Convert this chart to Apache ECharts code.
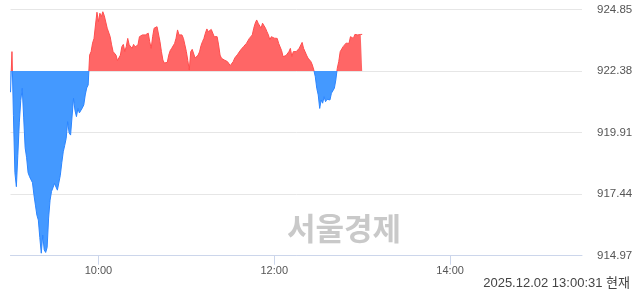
<!DOCTYPE html>
<html><head><meta charset="utf-8">
<script src="https://cdn.jsdelivr.net/npm/echarts@6/dist/echarts.min.js"></script>
<style>html,body{margin:0;padding:0;background:#fff}#c{width:640px;height:294px}</style>
</head><body><div id="c"></div>
<script>
// one value per minute from 09:00 to 13:00
const values = [
921.53,923.16,920.6,918.3,917.74,919.0,920.3,921.2,921.69,920.5,
919.3,918.9,918.3,918.14,918.21,917.9,917.41,917.0,916.6,916.4,
915.7,915.07,915.8,915.2,915.1,915.3,916.48,917.2,917.55,917.7,
917.87,917.8,917.6,917.54,918.2,918.7,919.14,919.4,919.68,920.35,
919.9,919.81,919.85,921.29,920.8,920.55,920.88,920.7,920.68,920.9,
921.02,921.42,921.7,921.82,923.02,923.16,923.5,923.69,924.23,924.74,
924.36,924.7,924.56,924.76,924.6,924.56,924.1,924.16,923.76,923.43,
923.16,923.1,923.02,922.8,922.73,923.02,923.36,923.45,923.16,923.36,
923.69,923.43,923.35,923.29,923.45,923.35,923.29,923.43,923.76,923.8,
923.83,923.83,923.83,923.85,923.9,923.56,923.29,923.76,924.1,924.15,
924.16,924.1,923.56,923.16,922.82,922.7,922.69,922.73,923.02,923.2,
923.29,923.36,923.49,923.7,924.03,923.83,923.76,923.83,923.69,923.43,
923.16,922.8,922.42,923.16,923.25,923.2,922.9,922.82,923.02,923.15,
923.4,923.56,923.69,923.9,924.07,923.96,924.03,924.05,924.1,923.76,
923.76,923.76,923.43,923.02,922.89,922.85,922.82,922.8,922.76,922.76,
922.6,922.55,922.76,922.9,922.96,923.05,923.02,923.22,923.16,923.36,
923.29,923.49,923.55,923.69,923.75,923.83,924.1,924.3,924.43,924.3,
924.23,924.1,924.3,924.23,924.1,923.96,923.83,923.63,923.76,923.8,
923.7,923.63,923.69,923.49,923.43,923.2,922.96,922.96,923.0,923.02,
923.16,923.29,922.96,923.16,923.16,923.16,923.2,923.29,923.29,923.53,
923.29,923.16,923.02,922.9,922.89,922.76,922.62,922.42,922.15,921.69,
921.42,920.88,921.22,921.09,921.35,921.15,921.25,921.29,921.22,921.49,
921.42,921.69,922.02,922.49,922.76,923.16,923.22,923.36,923.43,923.5,
923.56,923.49,923.76,923.69,923.69,923.85,923.9,923.83,923.9,923.85,
923.85];
const baseValue = 922.38;
const yTicks = [914.97, 917.44, 919.91, 922.38, 924.85];
const xTickLabels = ['10:00', '12:00', '14:00'];
const stampText = '2025.12.02 13:00:31 현재';
const watermark = '서울경제';

// categories: every minute 09:00 .. 15:30
const categories = [];
for (let m = 0; m <= 390; m++) {
  const h = 9 + Math.floor(m / 60), mm = m % 60;
  categories.push((h < 10 ? '0' : '') + h + ':' + (mm < 10 ? '0' : '') + mm);
}
const isTick = (idx) => xTickLabels.indexOf(categories[idx]) >= 0;

const chart = echarts.init(document.getElementById('c'), null, {renderer: 'canvas'});
const font = "'Liberation Sans', Arial, sans-serif";
const lo = 800, hi = 1000;
chart.setOption({
  animation: false,
  grid: {left: 10.5, right: 58, top: 9.5, bottom: 38.3},
  xAxis: {
    type: 'category', data: categories, boundaryGap: false,
    axisLine: {show: true, lineStyle: {color: '#ccd6eb', width: 1}},
    axisTick: {show: true, length: 9, interval: (i) => isTick(i), lineStyle: {color: '#ccd6eb'}},
    axisLabel: {interval: (i) => isTick(i), color: '#555', fontSize: 11, fontFamily: font, margin: 10},
    splitLine: {show: false}
  },
  yAxis: {
    type: 'value', position: 'right', min: yTicks[0], max: yTicks[4], interval: 2.47,
    axisLine: {show: false}, axisTick: {show: false},
    axisLabel: {color: '#555', fontSize: 11.5, fontFamily: font, margin: 15, formatter: v => v.toFixed(2)},
    splitLine: {lineStyle: {color: '#e6e6e6', width: 1}}
  },
  visualMap: [
    {type: 'piecewise', show: false, seriesIndex: 0, dimension: 1,
      pieces: [{gte: lo, lt: baseValue, color: '#4499ff'}, {gte: baseValue, lte: hi, color: '#ff6666'}]},
    {type: 'piecewise', show: false, seriesIndex: 1, dimension: 1,
      pieces: [{gte: lo, lt: baseValue, color: '#2b85ff'}, {gte: baseValue, lte: hi, color: '#ff4d4d'}]}
  ],
  series: [
    {type: 'line', data: values, symbol: 'none', lineStyle: {width: 0},
      areaStyle: {origin: baseValue, opacity: 1}, z: 2},
    {type: 'line', data: values, symbol: 'none', lineStyle: {width: 1}, z: 3}
  ],
  graphic: [
    {type: 'text', left: 287, top: 213, z: 0,
      style: {text: watermark, fontSize: 31, fontWeight: 'bold', fill: '#c9c9c9', fontFamily: "'Noto Sans CJK KR', sans-serif"}},
    {type: 'text', right: 10, top: 277,
      style: {text: stampText, fontSize: 13, fill: '#444', fontFamily: "'Liberation Sans', 'Noto Sans CJK KR', sans-serif"}}
  ]
});
</script></body></html>
